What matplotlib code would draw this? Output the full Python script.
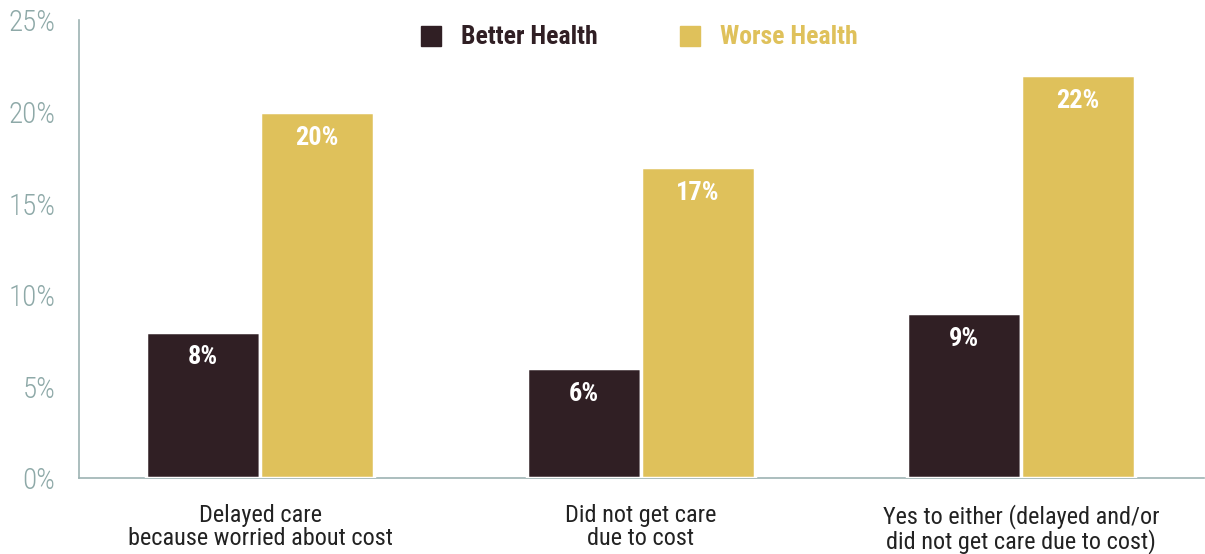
import matplotlib.pyplot as plt
import numpy as np

categories = ['Delayed care\nbecause worried about cost',
              'Did not get care\ndue to cost',
              'Yes to either (delayed and/or\ndid not get care due to cost)']
better = [8, 6, 9]
worse = [20, 17, 22]
yticks = [0, 5, 10, 15, 20, 25]

fam = ['Roboto Condensed', 'Archivo Narrow', 'Barlow Condensed', 'DejaVu Sans']

dark = '#301f24'
gold = '#dfc15b'
tick_col = '#8ea9a8'

fig, ax = plt.subplots(figsize=(12.05, 5.54), dpi=100)
fig.subplots_adjust(left=0.0656, right=0.999, bottom=0.137, top=0.963)

x = np.arange(len(categories))
w = 0.3
b1 = ax.bar(x - w / 2, better, w, color=dark, edgecolor='white', linewidth=2.5, zorder=3)
b2 = ax.bar(x + w / 2, worse, w, color=gold, edgecolor='white', linewidth=2.5, zorder=3)

for bars, vals in ((b1, better), (b2, worse)):
    for r, v in zip(bars, vals):
        ax.text(r.get_x() + r.get_width() / 2, v - 1.4, f'{v}%', ha='center', va='center',
                color='white', fontsize=19, fontweight='bold', family=fam, zorder=4)

ax.set_xlim(-0.476, 2.48)
ax.set_ylim(0, 25)
ax.set_yticks(yticks)
ax.set_yticklabels([f'{t}%' for t in yticks], color=tick_col, fontsize=21,
                   family=fam, fontweight='light')
ax.tick_params(axis='y', length=0, pad=17)
ax.set_xticks(x)
ax.set_xticklabels(categories, fontsize=17.5, color='#222222', family=fam, linespacing=1.0)
ax.tick_params(axis='x', length=0, pad=19)

for s in ('top', 'right'):
    ax.spines[s].set_visible(False)
for s in ('left', 'bottom'):
    ax.spines[s].set_color('#9db3b3')
    ax.spines[s].set_linewidth(1.2)

# legend drawn by hand at the top
fig.patches.append(plt.Rectangle((421 / 1205, 1 - 46 / 554), 20 / 1205, 20 / 554,
                                 transform=fig.transFigure, color=dark))
fig.text(461 / 1205, 1 - 37 / 554, 'Better Health', color=dark, fontsize=18.5,
         fontweight='bold', family=fam, va='center')
fig.patches.append(plt.Rectangle((680 / 1205, 1 - 46 / 554), 20 / 1205, 20 / 554,
                                 transform=fig.transFigure, color=gold))
fig.text(720 / 1205, 1 - 37 / 554, 'Worse Health', color=gold, fontsize=18.5,
         fontweight='bold', family=fam, va='center')

fig.savefig('out.png', dpi=100)
